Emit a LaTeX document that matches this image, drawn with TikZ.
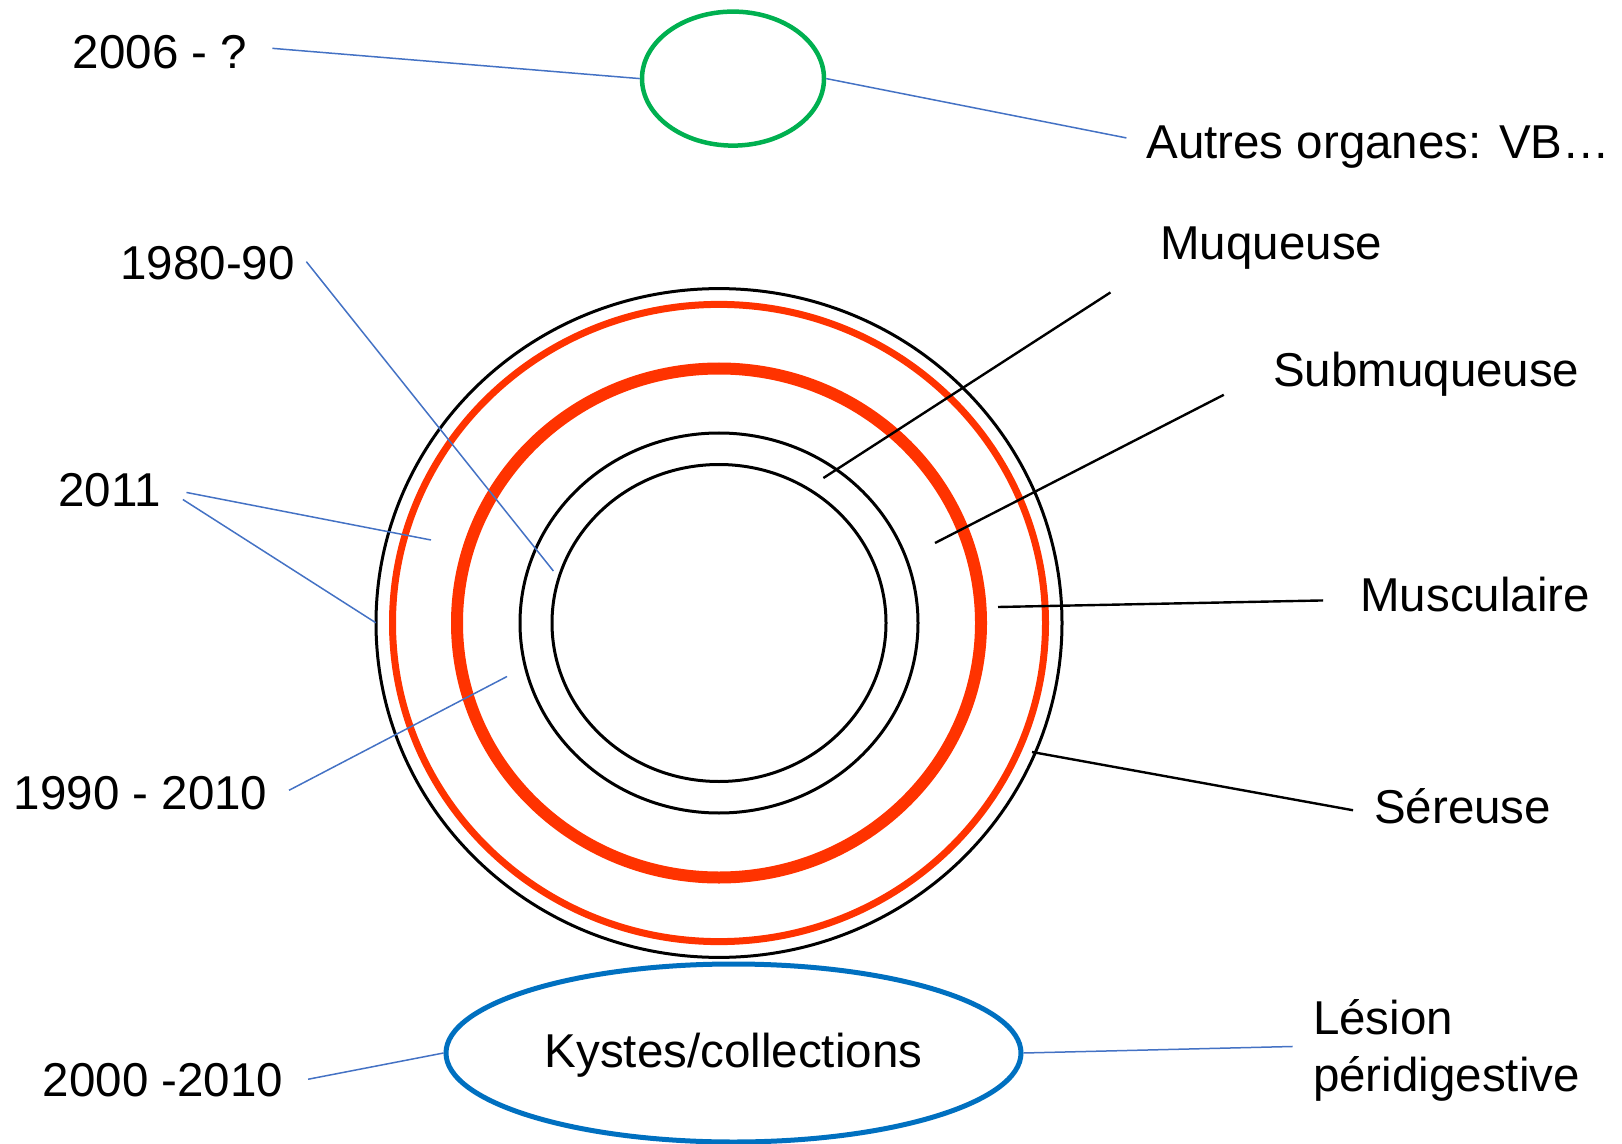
\documentclass[tikz,border=0pt]{standalone}
\usepackage{fontspec}
\setmainfont{Liberation Sans}
\usepackage{xcolor}
\usetikzlibrary{shapes.geometric}
\usetikzlibrary{calc}

\definecolor{ringred}{HTML}{FF3300}
\definecolor{linkblue}{HTML}{4472C4}
\definecolor{okgreen}{HTML}{00B050}
\definecolor{kblue}{HTML}{0070C0}

\tikzset{
  lblfont/.style={font=\fontsize{23.75}{28.5}\selectfont},
  lbl/.style={lblfont, inner sep=0, anchor=west, text height=17pt, text depth=0pt},
  bluelink/.style={draw=linkblue, line width=0.75pt},
  blacklink/.style={draw=black, line width=1.2pt},
}

\begin{document}
\begin{tikzpicture}[x=0.5pt, y=-0.5pt]
  \useasboundingbox (0,0) rectangle (1622,1144);
  \coordinate (O) at (719,623);
  \draw[line width=1.5pt] (O) ellipse [x radius=171.5pt, y radius=167.2pt];
  \draw[ringred, line width=3.5pt] (O) ellipse [x radius=163.25pt, y radius=159.3pt];
  \draw[ringred, line width=6pt] (O) ellipse [x radius=131pt, y radius=127.25pt];
  \draw[line width=1.5pt] (O) ellipse [x radius=99.5pt, y radius=95pt];
  \draw[line width=1.5pt] (O) ellipse [x radius=83.5pt, y radius=79.25pt];

  \node[ellipse, draw=okgreen, line width=2.25pt, minimum width=91pt, minimum height=67pt, inner sep=0] (G) at (733,78.6) {};
  \node[ellipse, draw=kblue, line width=2.5pt, minimum width=287.5pt, minimum height=89pt, inner sep=0, lblfont, text height=17pt, text depth=3pt] (K) at (733.5,1053) {Kystes/collections};

  \node[lbl] (D06) at (72.4,51.3) {2006 - ?};
  \node[lbl] (VB) at (1146,141.8) {Autres organes: VB…};
  \node[lbl] (D80) at (120,263) {1980-90};
  \node[lbl] (D11) at (58,489.5) {2011};
  \node[lbl] (D90) at (13.4,792.4) {1990 - 2010};
  \node[lbl] (D00) at (42.4,1079) {2000 -2010};
  \node[lbl] (Muq) at (1160,243) {Muqueuse};
  \node[lbl] (Sub) at (1272.7,369.7) {Submuqueuse};
  \node[lbl] (Mus) at (1360,594.7) {Musculaire};
  \node[lbl] (Ser) at (1373.7,806) {Séreuse};
  \node[lblfont, inner sep=0, anchor=west, align=left] (L) at (1312.7,1050) {Lésion\\péridigestive};

  \coordinate (c80) at (553.4,571);
  \coordinate (c11a) at (431,540);
  \coordinate (c11b) at (375.7,622.7);
  \coordinate (c90) at (507,676.5);
  \coordinate (cmuq) at (823.4,478);
  \coordinate (csub) at (935,543);
  \coordinate (cmus) at (998,607);
  \coordinate (cser) at (1032,752);

  \draw[bluelink, shorten <=12.5pt] ([yshift=2.5pt]D06.east) -- (G.west);
  \draw[bluelink, shorten >=10pt] (G.east) -- (VB.west);
  \draw[bluelink, shorten <=9pt] ([yshift=-1pt]D80.north east) -- (c80);
  \draw[bluelink, shorten <=13pt] ([yshift=1pt]D11.east) -- (c11a);
  \draw[bluelink, shorten <=13pt] ([yshift=2pt]D11.east) -- (c11b);
  \draw[bluelink, shorten <=12pt] ([yshift=-4.5pt]D90.east) -- (c90);
  \draw[bluelink, shorten <=12.5pt] ([yshift=-2.5pt]D00.east) -- (K.west);
  \draw[bluelink, shorten >=10pt] (K.east) -- ([yshift=2pt]L.west);
  \draw[blacklink, shorten <=29.5pt] (Muq.south west) -- (cmuq);
  \draw[blacklink, shorten <=27.5pt] (Sub.west) -- (csub);
  \draw[blacklink, shorten <=18.5pt] ([yshift=-2.5pt]Mus.west) -- (cmus);
  \draw[blacklink, shorten <=10.5pt] ([yshift=-4pt]Ser.west) -- (cser);
\end{tikzpicture}
\end{document}
